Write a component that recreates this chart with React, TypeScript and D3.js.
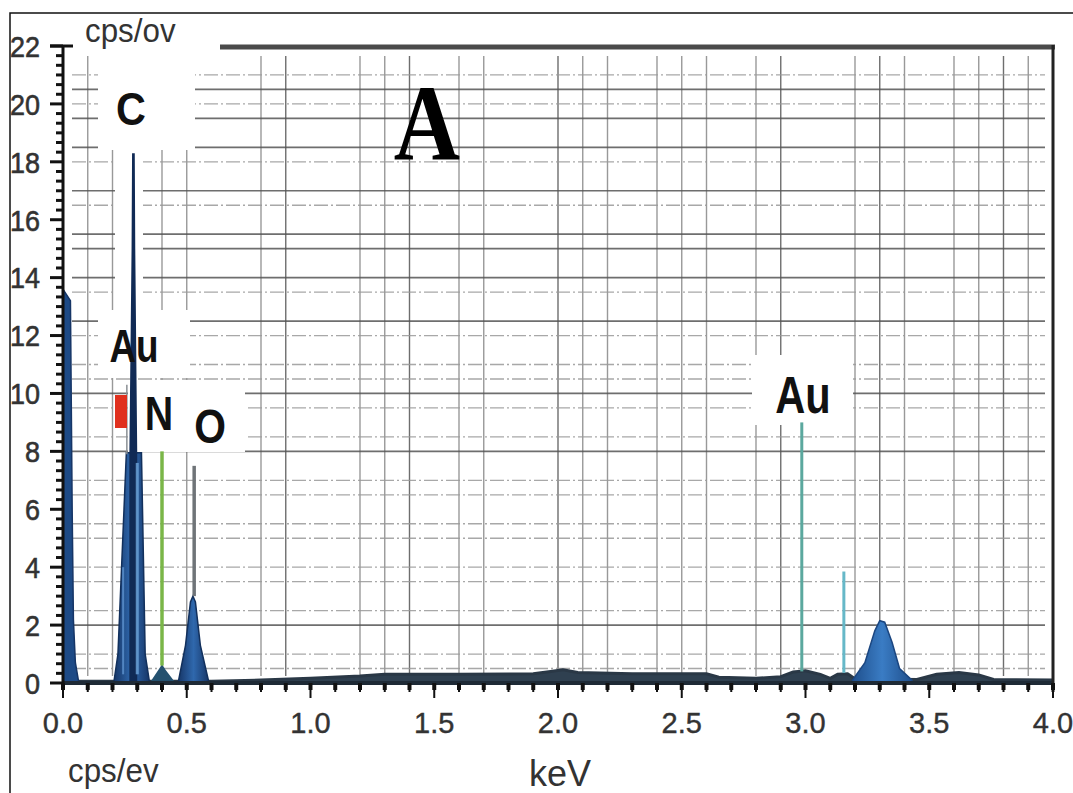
import React from "react";
import * as d3 from "d3";

// ---- data ----
const xTickLabels = ["0.0", "0.5", "1.0", "1.5", "2.0", "2.5", "3.0", "3.5", "4.0"];
const yTickLabels = ["0", "2", "4", "6", "8", "10", "12", "14", "16", "18", "20", "22"];
const gridKeV = [0.1, 0.2, 0.4, 0.5, 0.8, 0.9, 1.2, 1.3, 1.4, 1.6, 1.7, 2.0, 2.1, 2.2, 2.4, 2.5, 2.6, 2.8, 2.9, 3.2, 3.3, 3.4, 3.6, 3.7, 3.8, 3.9];
const gridCps = [0.5, 1, 2, 2.5, 3.5, 4, 5, 5.5, 6.5, 7, 8, 8.5, 9.5, 10, 10.5, 11, 12, 12.5, 13.5, 14, 15, 15.5, 16.5, 17, 18, 18.5, 19.5, 20, 20.5, 21];
const darkGridCps = [2, 8, 10, 12.5, 14, 15, 15.5, 17, 18.5, 19.5, 20.5];

// spectrum (keV, cps)
const zeroPeak: [number, number][] = [[0, 0], [0, 13.6], [0.03, 13.2], [0.037, 6], [0.042, 2.2], [0.05, 0.7], [0.062, 0.1], [0.07, 0]];
const cPeakBase: [number, number][] = [[0.205, 0], [0.222, 1], [0.256, 7.95], [0.317, 7.95], [0.332, 1], [0.35, 0]];
const cSpike: [number, number][] = [[0.268, 7.9], [0.277, 15], [0.279, 18.3], [0.29, 18.3], [0.292, 15], [0.3, 7.9]];
const nBump: [number, number][] = [[0.35, 0], [0.385, 0.45], [0.4, 0.65], [0.415, 0.45], [0.455, 0]];
const oPeak: [number, number][] = [[0.465, 0], [0.495, 1.3], [0.515, 2.8], [0.525, 3.0], [0.535, 2.8], [0.555, 1.3], [0.59, 0]];
const auPeak: [number, number][] = [[3.19, 0.1], [3.24, 0.7], [3.28, 1.8], [3.3, 2.15], [3.32, 2.1], [3.35, 1.4], [3.38, 0.5], [3.43, 0.1]];
const continuum: [number, number][] = [[0.06, 0.06], [0.6, 0.06], [0.8, 0.1], [1.0, 0.16], [1.2, 0.24], [1.3, 0.3], [1.6, 0.3], [1.9, 0.32], [1.97, 0.4], [2.02, 0.46], [2.08, 0.36], [2.3, 0.32], [2.6, 0.32], [2.65, 0.2], [2.8, 0.16], [2.9, 0.22], [2.95, 0.38], [3.0, 0.42], [3.06, 0.3], [3.1, 0.16], [3.13, 0.3], [3.17, 0.32], [3.2, 0.15], [3.45, 0.12], [3.53, 0.3], [3.62, 0.36], [3.7, 0.28], [3.76, 0.12], [4.0, 0.1]];
const lineN = { keV: 0.4, from: 0.6, to: 8.0 };
const lineO = { keV: 0.53, from: 3.0, to: 7.5 };
const auLine1 = { keV: 2.985, from: 0.4, to: 9.0 };
const auLine2 = { keV: 3.155, from: 0.35, to: 3.85 };
const auMLine = { keV: 0.258, from: 7.9, to: 10.3 };

const W = 1073, H = 793;

export default function App() {
  const x = d3.scaleLinear().domain([0, 4]).range([63, 1053]);
  const y = d3.scaleLinear().domain([0, 22]).range([683, 46]);
  const area = d3.area<[number, number]>().x(d => x(d[0])).y0(y(0)).y1(d => y(d[1]));
  const line = d3.line<[number, number]>().x(d => x(d[0])).y(d => y(d[1]));

  const yMinor = d3.range(0, 22.0001, 1 / 3);
  const xMinor = d3.range(0, 4.0001, 0.1);

  const font = "'Liberation Sans', Arial, sans-serif";
  const vline = (l: { keV: number; from: number; to: number }, color: string, w: number) => (
    <line x1={x(l.keV)} x2={x(l.keV)} y1={y(l.from)} y2={y(l.to)} stroke={color} strokeWidth={w} />
  );
  const sx = (cx: number, cy: number, s: number) => `translate(${cx} ${cy}) scale(${s} 1) translate(${-cx} ${-cy})`;

  return (
    <svg width={W} height={H} style={{ position: "absolute", left: 0, top: 0, background: "#fff" }}>
      <defs>
        <linearGradient id="pk" x1="0" x2="1" y1="0" y2="0">
          <stop offset="0" stopColor="#163566" />
          <stop offset="0.5" stopColor="#2f68ad" />
          <stop offset="1" stopColor="#163566" />
        </linearGradient>
        <linearGradient id="au" x1="0" x2="1" y1="0" y2="0">
          <stop offset="0" stopColor="#1f4f8c" />
          <stop offset="0.5" stopColor="#3a7cc4" />
          <stop offset="1" stopColor="#1f4f8c" />
        </linearGradient>
      </defs>
      <rect x={0} y={0} width={W} height={H} fill="#fff" />
      {/* outer border */}
      <rect x={10} y={13} width={W + 20} height={H + 20} fill="none" stroke="#111" strokeWidth={1.5} />

      {/* grid */}
      <g>
        {gridKeV.map((k, i) => (
          <line key={"gv" + i} x1={x(k)} x2={x(k)} y1={56} y2={676}
            stroke={[0.9, 2.0, 2.9, 3.3, 3.8, 1.4].includes(k) ? "#555" : "#888"} strokeWidth={1.4} opacity={0.85} />
        ))}
        {gridCps.map((c, i) => (
          <line key={"gh" + i} x1={72} x2={1045} y1={y(c)} y2={y(c)}
            stroke={darkGridCps.includes(c) ? "#555" : "#999"} strokeWidth={darkGridCps.includes(c) ? 1.7 : 1.3}
            strokeDasharray={darkGridCps.includes(c) ? undefined : "14 3 2 3"} opacity={0.85} />
        ))}
      </g>

      {/* white label boxes */}
      <rect x={98} y={52} width={97} height={98} fill="#fff" />
      <rect x={115} y={148} width={28} height={170} fill="#fff" />
      <rect x={98} y={310} width={92} height={68} fill="#fff" />
      <rect x={128} y={380} width={117} height={72} fill="#fff" />
      <rect x={752} y={355} width={101} height={70} fill="#fff" />
      <rect x={63} y={50} width={150} height={4} fill="#fff" />

      {/* continuum */}
      <path d={area(continuum) || ""} fill="#2f4050" />
      <path d={line(continuum) || ""} fill="none" stroke="#2a3846" strokeWidth={3} />

      {/* peaks */}
      <path d={area(zeroPeak) || ""} fill="#1d4a86" stroke="#163566" strokeWidth={1.5} />
      <path d={area(cPeakBase) || ""} fill="url(#pk)" stroke="#12305c" strokeWidth={1.5} />
      <path d={area(cSpike) || ""} fill="#102a55" />
      <line x1={x(0.3)} x2={x(0.3)} y1={y(0.3)} y2={y(7.6)} stroke="#6ea6dd" strokeWidth={3} opacity={0.8} />
      <line x1={x(0.243)} x2={x(0.243)} y1={y(0.3)} y2={y(4)} stroke="#5d93cf" strokeWidth={2} opacity={0.8} />
      <path d={area(nBump) || ""} fill="#24516f" />
      <path d={area(oPeak) || ""} fill="url(#pk)" stroke="#12305c" strokeWidth={1.5} />
      <path d={area(auPeak) || ""} fill="url(#au)" stroke="#1b4680" strokeWidth={1.5} />
      {vline(lineN, "#7ab648", 3.5)}
      {vline(lineO, "#6f7478", 3.5)}
      {vline(auLine1, "#5ba89e", 3)}
      {vline(auLine2, "#66b8c8", 3)}
      {vline(auMLine, "#8a8f94", 1.5)}
      <rect x={115} y={395} width={12} height={33} fill="#e0301e" />

      {/* baseline */}
      <line x1={x(0)} x2={x(4)} y1={y(0)} y2={y(0)} stroke="#1e2a36" strokeWidth={4} />

      {/* frame */}
      <line x1={220} x2={1055} y1={47} y2={47} stroke="#4a4a4a" strokeWidth={5} />
      <line x1={1053} x2={1053} y1={45} y2={692} stroke="#222" strokeWidth={3} />

      {/* y axis */}
      <line x1={63} x2={63} y1={46} y2={683} stroke="#111" strokeWidth={3} />
      {yMinor.map((v, i) => {
        const major = i % 6 === 0;
        return <line key={"yt" + i} x1={major ? 50 : 56} x2={63} y1={y(v)} y2={y(v)} stroke="#111" strokeWidth={3} />;
      })}
      <line x1={50} x2={73} y1={y(22)} y2={y(22)} stroke="#111" strokeWidth={3} />
      {yTickLabels.map((t, i) => (
        <text key={"yl" + i} x={40} y={y(+t)} dy="0.36em" textAnchor="end" fontFamily={font} fontSize={30} fill="#333"
          stroke="#333" strokeWidth={0.6} transform={sx(40, y(+t), 0.9)}>{t}</text>
      ))}

      {/* x axis ticks */}
      {xMinor.map((v, i) => {
        const major = i % 5 === 0;
        return (
          <g key={"xt" + i}>
            <line x1={x(v)} x2={x(v)} y1={683} y2={major ? 698 : 692} stroke="#111" strokeWidth={2} />
            <line x1={x(v)} x2={x(v)} y1={683} y2={690} stroke="#111" strokeWidth={4} />
          </g>
        );
      })}
      {xTickLabels.map((t, i) => (
        <text key={"xl" + i} x={x(+t)} y={733} textAnchor="middle" fontFamily={font} fontSize={29} fill="#333"
          stroke="#333" strokeWidth={0.4}>{t}</text>
      ))}

      {/* axis titles */}
      <text x={85} y={42} fontFamily={font} fontSize={33} fill="#333" transform={sx(85, 42, 0.95)}>cps/ov</text>
      <text x={68} y={782} fontFamily={font} fontSize={33} fill="#333" transform={sx(68, 782, 0.95)}>cps/ev</text>
      <text x={560} y={786} textAnchor="middle" fontFamily={font} fontSize={36} fill="#333">keV</text>

      {/* element labels */}
      <g fontFamily={font} fontWeight="bold" fill="#111">
        <text x={131} y={125} textAnchor="middle" fontSize={47} transform={sx(131, 125, 0.88)}>C</text>
        <text x={134} y={362} textAnchor="middle" fontSize={46} transform={sx(134, 362, 0.8)}>Au</text>
        <text x={159} y={430} textAnchor="middle" fontSize={48} transform={sx(159, 430, 0.82)}>N</text>
        <text x={210} y={443} textAnchor="middle" fontSize={48} transform={sx(210, 443, 0.85)}>O</text>
        <text x={803} y={413} textAnchor="middle" fontSize={52} transform={sx(803, 413, 0.8)}>Au</text>
      </g>
      <text x={427} y={160} textAnchor="middle" fontFamily="'Liberation Serif', 'Times New Roman', serif" fontWeight="bold" fontSize={108} fill="#000" transform={sx(427, 160, 0.85)}>A</text>
    </svg>
  );
}
